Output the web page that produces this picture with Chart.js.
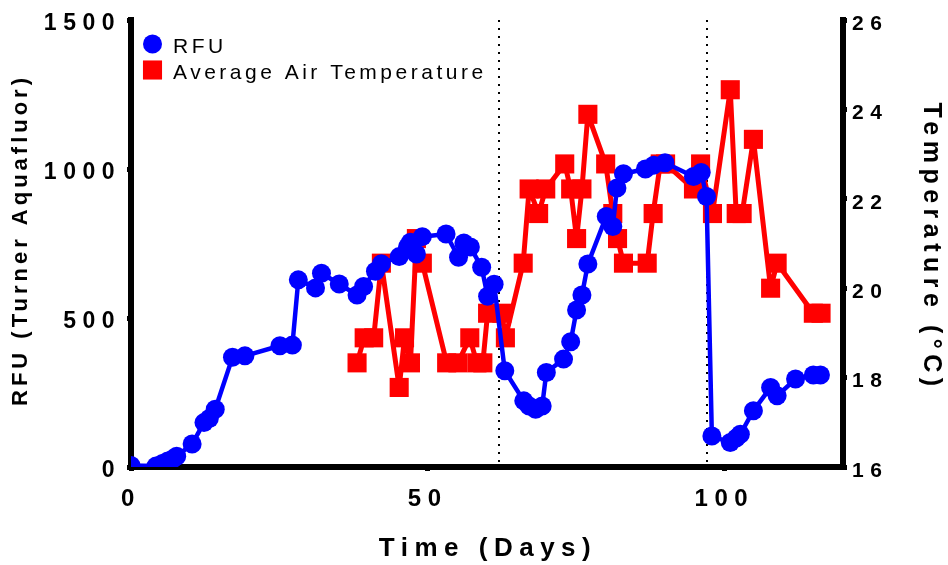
<!DOCTYPE html>
<html>
<head>
<meta charset="utf-8">
<script src="https://cdn.jsdelivr.net/npm/chart.js@4/dist/chart.umd.min.js"></script>
<style>
html, body { margin: 0; padding: 0; background: #fff; }
#wrap { width: 948px; height: 565px; }
</style>
</head>
<body>
<div id="wrap"><canvas id="chart" width="948" height="565"></canvas></div>
<script>
// RFU readings (Turner Aquafluor)
var rfuDays = [0, 4.2, 5.3, 6.2, 7.1, 7.7, 10.3, 12.3, 13.2, 14.2, 17.1, 19.2, 25.1, 27.2, 28.2, 31.1, 32.1, 35.1,
    38.1, 39.2, 41.2, 42.2, 45.2, 46.6, 47.1, 48.1, 49.1, 53.1, 55.2, 56.1, 57.2, 59.1, 60.1, 61.2, 63.0,
    66.2, 67.1, 68.2, 69.3, 70.0, 72.9, 74.1, 75.1, 76.0, 77.0, 80.1, 81.2, 81.9, 83.0, 86.7, 88.1, 90.0,
    94.8, 96.1, 97.0, 97.9, 101.0, 102.0, 102.7, 104.9, 107.8, 108.9, 112.0, 115.0, 116.2];
var rfuValues = [5, 3, 12, 20, 28, 36, 77, 149, 163, 194, 368, 373, 407, 409, 628, 601, 650, 614,
    577, 606, 657, 682, 706, 738, 754, 715, 773, 782, 704, 752, 738, 670, 573, 613, 323,
    222, 205, 194, 205, 317, 362, 420, 527, 577, 681, 841, 807, 936, 984, 1000, 1013, 1021,
    975, 988, 908, 104, 82, 97, 110, 189, 267, 239, 295, 309, 309];

// Average air temperature (deg C)
var tempDays = [38.1, 39.3, 40.9, 42.2, 45.2, 46.1, 47.1, 48.1, 49.1, 53.2, 55.1, 57.1, 58.3, 59.3, 60.1,
    62.5, 63.1, 66.1, 67.1, 68.7, 69.9, 73.1, 74.1, 75.1, 76.0, 77.0, 80.0, 81.2, 82.0, 83.0, 87.0,
    88.0, 89.2, 90.1, 94.8, 96.0, 98.0, 101.0, 102.0, 103.0, 104.9, 107.8, 108.9, 115.0, 116.3];
var tempValues = [18.33, 18.89, 18.89, 20.56, 17.78, 18.89, 18.33, 21.11, 20.56, 18.33, 18.33, 18.89, 18.33, 18.33, 19.44,
    19.44, 18.89, 20.56, 22.22, 21.67, 22.22, 22.78, 22.22, 21.11, 22.22, 23.89, 22.78, 21.67, 21.11, 20.56, 20.56,
    21.67, 22.78, 22.78, 22.22, 22.78, 21.67, 24.44, 21.67, 21.67, 23.33, 20.0, 20.56, 19.44, 19.44];

// dotted event markers (days)
var eventDays = [62.1, 97.0];

var xTicks = [0, 50, 100];
var rfuTicks = [0, 500, 1000, 1500];
var tempTicks = [16, 18, 20, 22, 24, 26];

var FONT = "'Liberation Sans', Arial, sans-serif";
Chart.defaults.font.family = FONT;
Chart.defaults.color = '#000';

function toPoints(xs, ys) {
    return xs.map(function(x, i) { return {x: x, y: ys[i]}; });
}

var extras = {
    id: 'extras',
    beforeDraw: function(chart) {
        chart.ctx.letterSpacing = '6.5px';
    },
    beforeDatasetsDraw: function(chart) {
        var ctx = chart.ctx, area = chart.chartArea, xs = chart.scales.x;
        ctx.save();
        ctx.letterSpacing = '0px';
        ctx.strokeStyle = '#000';
        ctx.lineWidth = 2;
        ctx.setLineDash([2, 6]);
        eventDays.forEach(function(d) {
            var px = Math.round(xs.getPixelForValue(d));
            ctx.beginPath();
            ctx.moveTo(px, area.top);
            ctx.lineTo(px, area.bottom - 3);
            ctx.stroke();
        });
        ctx.restore();
    },
    afterDraw: function(chart) {
        var ctx = chart.ctx;
        ctx.save();
        ctx.fillStyle = '#000';

        // x title
        ctx.font = 'bold 26px ' + FONT;
        ctx.letterSpacing = '6.5px';
        ctx.textAlign = 'center';
        ctx.textBaseline = 'alphabetic';
        ctx.fillText('Time (Days)', 488, 556);

        // left title
        ctx.save();
        ctx.translate(21, 242);
        ctx.rotate(-Math.PI / 2);
        ctx.font = 'bold 22px ' + FONT;
        ctx.letterSpacing = '4px';
        ctx.textBaseline = 'middle';
        ctx.fillText('RFU (Turner Aquafluor)', 2, 0);
        ctx.restore();

        // right title
        ctx.save();
        ctx.translate(931, 245);
        ctx.rotate(Math.PI / 2);
        ctx.font = 'bold 25px ' + FONT;
        ctx.letterSpacing = '5.5px';
        ctx.textBaseline = 'middle';
        ctx.fillText('Temperature (\u00B0C)', 2, 0);
        ctx.restore();

        // legend
        var rows = [44, 70];
        ctx.font = '21px ' + FONT;
        ctx.letterSpacing = '3.5px';
        ctx.textAlign = 'left';
        ctx.textBaseline = 'alphabetic';
        chart.data.datasets.forEach(function(ds, i) {
            ctx.fillStyle = ds.pointBackgroundColor;
            Chart.helpers.drawPoint(ctx, {
                pointStyle: ds.pointStyle, radius: ds.pointRadius, rotation: 0, borderWidth: 0
            }, 152.5, rows[i]);
            ctx.fillStyle = '#000';
            ctx.fillText(ds.label, 173, rows[i] + 9);
        });
        ctx.restore();
    }
};

function tickFilter(list) {
    return function(scale) {
        scale.ticks = list.map(function(v) { return {value: v}; });
    };
}

function plainLabel(v) {
    return String(v);
}

var axisGrid = {drawOnChartArea: false, drawTicks: true, tickLength: 4, color: '#000', lineWidth: 5};
var axisBorder = {display: true, color: '#000', width: 6};

new Chart(document.getElementById('chart'), {
    type: 'line',
    data: {
        datasets: [
            {
                label: 'RFU',
                data: toPoints(rfuDays, rfuValues),
                yAxisID: 'y',
                borderColor: '#0000FF',
                borderWidth: 4.5,
                borderJoinStyle: 'round',
                pointStyle: 'circle',
                pointRadius: 9.5,
                pointBackgroundColor: '#0000FF',
                pointBorderWidth: 0,
                tension: 0
            },
            {
                label: 'Average Air Temperature',
                data: toPoints(tempDays, tempValues),
                yAxisID: 'y1',
                borderColor: '#FF0000',
                borderWidth: 5,
                borderJoinStyle: 'round',
                pointStyle: 'rect',
                pointRadius: 13.5,
                pointBackgroundColor: '#FF0000',
                pointBorderWidth: 0,
                tension: 0
            }
        ]
    },
    options: {
        responsive: false,
        devicePixelRatio: 1,
        animation: false,
        layout: {padding: {top: 20, left: 0, right: 0, bottom: 0}},
        plugins: {
            legend: {display: false},
            tooltip: {enabled: false}
        },
        scales: {
            x: {
                type: 'linear',
                min: 0,
                max: 120,
                afterBuildTicks: tickFilter(xTicks),
                afterFit: function(s) { s.height = 98; },
                ticks: {
                    font: {size: 24, weight: 'bold'},
                    color: '#000',
                    padding: 14,
                    maxRotation: 0,
                    callback: plainLabel
                },
                grid: axisGrid,
                border: axisBorder
            },
            y: {
                type: 'linear',
                position: 'left',
                min: 0,
                max: 1500,
                afterBuildTicks: tickFilter(rfuTicks),
                afterFit: function(s) { s.width = 131; },
                ticks: {
                    font: {size: 23, weight: 'bold'},
                    color: '#000',
                    padding: 6,
                    labelOffset: 4,
                    callback: plainLabel
                },
                grid: axisGrid,
                border: axisBorder
            },
            y1: {
                type: 'linear',
                position: 'right',
                min: 16,
                max: 26,
                afterBuildTicks: tickFilter(tempTicks),
                afterFit: function(s) { s.width = 105; },
                ticks: {
                    font: {size: 21, weight: 'bold'},
                    color: '#000',
                    padding: 5,
                    labelOffset: 4,
                    callback: plainLabel
                },
                grid: axisGrid,
                border: axisBorder
            }
        }
    },
    plugins: [extras]
});
</script>
</body>
</html>
